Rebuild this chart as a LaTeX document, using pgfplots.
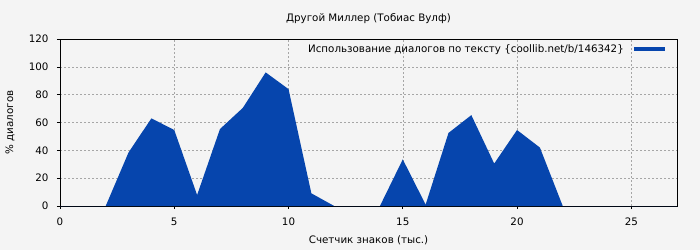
\documentclass[border=0pt]{standalone}
\usepackage{fontspec}
\setmainfont{DejaVu Sans}
\usepackage{pgfplots}
\pgfplotsset{compat=1.18}
\definecolor{bg}{HTML}{F4F4F4}
\definecolor{areablue}{HTML}{0645AD}
\newcommand\fs{\fontsize{10.3}{12}\selectfont}
\begin{document}
\begin{tikzpicture}[font=\fs]
\fill[bg] (-60pt,-44pt) rectangle (640pt,206pt);
\useasboundingbox (-60pt,-44pt) rectangle (640pt,206pt);
\begin{axis}[
  at={(0,0)}, anchor=south west,
  scale only axis, width=617pt, height=167pt,
  xmin=0, xmax=27, ymin=0, ymax=120,
  xtick={0,5,...,25}, ytick={0,20,...,120},
  grid=major, grid style={dash pattern=on 2pt off 2pt, gray!70, line width=0.5pt},
  axis line style={black, line width=0.8pt},
  tick align=outside, xtick pos=bottom, ytick pos=left,
  major tick length=3pt, tick style={black, line width=0.6pt},
  /pgf/number format/assume math mode=true,
  tick label style={font=\fs},
  xticklabel style={yshift=-5pt},
  yticklabel style={xshift=-5pt},
  title={Другой Миллер (Тобиас Вулф)},
  title style={at={(rel axis cs:0.5,1)}, anchor=center, yshift=14pt, font=\fs},
  xlabel={Счетчик знаков (тыс.)},
  xlabel style={at={(rel axis cs:0.5,0)}, anchor=center, yshift=-34pt, font=\fs},
  ylabel={\% диалогов},
  ylabel style={at={(rel axis cs:0,0.5)}, anchor=center, yshift=50pt, font=\fs},
  legend plot pos=right,
  legend style={draw=none, fill=none, at={(rel axis cs:1,1)}, anchor=north east, xshift=-9pt, yshift=-1pt, font=\fs},
  legend image code/.code={\path (0pt,0pt); \fill[areablue] (8pt,-2pt) rectangle (39pt,2pt);},
]
\addplot[fill=areablue, draw=none] coordinates {
(0,0) (1,0) (2,0) (3,38.5) (4,63) (5,54.6) (6,7.9) (7,55.3) (8,70.5) (9,96) (10,84) (11,9.1) (12,0) (13,0) (14,0) (15,33.5) (16,1) (17,52.5) (18,65.3) (19,30.5) (20,54.6) (21,42) (22,0) (23,0) (24,0) (25,0) (26,0) (27,0)
} \closedcycle;
\addlegendentry{Использование диалогов по тексту \{coollib.net/b/146342\}}
\end{axis}
\end{tikzpicture}
\end{document}
